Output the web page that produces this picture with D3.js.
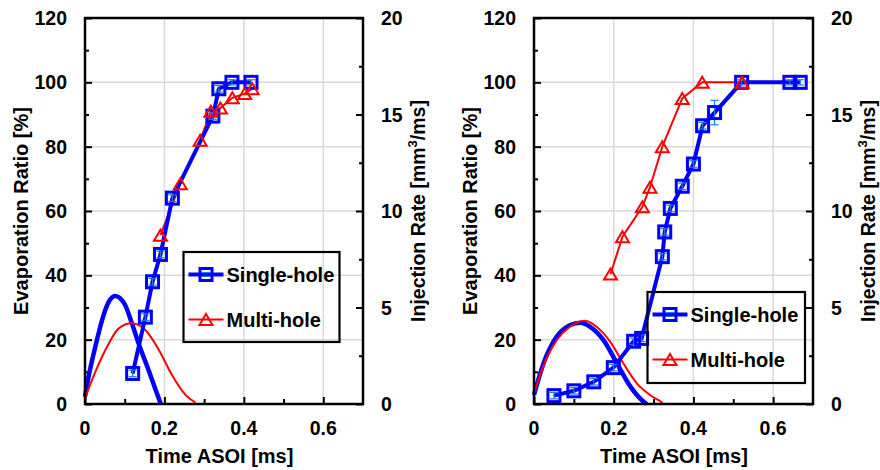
<!DOCTYPE html>
<html>
<head>
<meta charset="utf-8">
<script src="https://cdn.jsdelivr.net/npm/d3@7"></script>
<style>
  html, body { margin: 0; padding: 0; background: #fff; }
  svg text { font-family: "Liberation Sans", Arial, sans-serif; font-weight: bold; fill: #000; }
</style>
</head>
<body>
<svg id="chart" width="880" height="470"></svg>
<script>
// ---- Data -------------------------------------------------------------
const seriesNames = ["Single-hole", "Multi-hole"];

// Left panel: evaporation ratio [%] vs time ASOI [ms]
const leftSingleTime = [0.12, 0.152, 0.17, 0.19, 0.22, 0.322, 0.337, 0.37, 0.418];
const leftSingleRatio = [9.5, 27, 38, 46.5, 64, 89.5, 98, 100, 100];
const leftSingleErr = [1, 1, 1, 1, 1, 1, 1, 0.8, 0.8];
const leftMultiTime = [0.19, 0.24, 0.29, 0.317, 0.341, 0.371, 0.402, 0.421];
const leftMultiRatio = [52.5, 68.5, 82, 91, 92, 95.2, 96.5, 98];

// Left panel: injection rate [mm3/ms]
const leftSingleRateTime = [0, 0.009, 0.026, 0.043, 0.060, 0.076, 0.101, 0.118, 0.135, 0.160, 0.181, 0.191];
const leftSingleRate = [0.38, 1.41, 2.97, 4.35, 5.30, 5.60, 5.13, 4.18, 3.14, 1.76, 0.55, 0];
const leftMultiRateTime = [0, 0.026, 0.060, 0.085, 0.117, 0.152, 0.186, 0.219, 0.253, 0.278];
const leftMultiRate = [0.3, 1.67, 3.14, 3.92, 4.18, 3.83, 2.80, 1.50, 0.47, 0.07];

// Right panel: evaporation ratio [%] vs time ASOI [ms]
const rightSingleTime = [0.05, 0.10, 0.15, 0.199, 0.25, 0.27, 0.322, 0.328, 0.342, 0.372, 0.40, 0.423, 0.453, 0.521, 0.642, 0.668];
const rightSingleRatio = [2.6, 4.1, 6.9, 11.3, 19.5, 20.4, 45.8, 53.5, 60.8, 67.7, 74.6, 86.5, 90.6, 100, 100, 100];
const rightSingleErr = [1, 1, 1, 1, 1, 1, 1, 1, 1, 1, 1, 1, 3.8, 0.8, 0.8, 0.8];
const rightMultiTime = [0.192, 0.222, 0.272, 0.291, 0.322, 0.372, 0.422, 0.522];
const rightMultiRatio = [40.4, 52, 61.3, 67.4, 80, 95, 100, 100];

// Right panel: injection rate [mm3/ms]
const rightSingleRateTime = [0, 0.024, 0.057, 0.091, 0.116, 0.141, 0.174, 0.208, 0.242, 0.275, 0.283];
const rightSingleRate = [0.47, 2.11, 3.49, 4.09, 4.21, 4.0, 3.32, 2.11, 0.9, 0.12, 0];
const rightMultiRateTime = [0, 0.024, 0.057, 0.09, 0.128, 0.157, 0.191, 0.224, 0.258, 0.291, 0.318, 0.323];
const rightMultiRate = [0.55, 2.0, 3.3, 4.0, 4.31, 4.0, 3.23, 2.11, 1.07, 0.47, 0.12, 0.05];

// Axis ticks
const xMajorTicks = [0, 0.2, 0.4, 0.6];
const xMinorTicks = [0.1, 0.3, 0.5];
const yMajorTicks = [0, 20, 40, 60, 80, 100, 120];
const yMinorTicks = [10, 30, 50, 70, 90, 110];
const y2MajorTicks = [0, 5, 10, 15, 20];
const y2MinorTicks = [2.5, 7.5, 12.5, 17.5];

// ---- Drawing ----------------------------------------------------------
const BLUE = "#0000ff", RED = "#ff0000", ERR = "#1c7ed6", GRID = "#d9d9d9";
const svg = d3.select("#chart");

const zip = (a, b, c) => a.map((v, i) => ({ x: v, y: b[i], e: c ? c[i] : 0 }));

// triangle whose bounding box is centred on the point
function triPath(w, h) {
  return `M0,${-h / 2}L${w / 2},${h / 2}L${-w / 2},${h / 2}Z`;
}

function drawPanel(p) {
  const x = d3.scaleLinear().domain([0, 0.7]).range([p.left, p.right]);
  const y = d3.scaleLinear().domain([0, 120]).range([p.bottom, p.top]);
  const y2 = d3.scaleLinear().domain([0, 20]).range([p.bottom, p.top]);
  const g = svg.append("g");

  // grid
  g.selectAll(".gx").data(xMajorTicks.filter(t => t > 0)).join("line")
    .attr("x1", d => x(d)).attr("x2", d => x(d)).attr("y1", p.top).attr("y2", p.bottom)
    .attr("stroke", GRID).attr("stroke-width", 1.5);
  g.selectAll(".gy").data(yMajorTicks.filter(t => t > 0 && t < 120)).join("line")
    .attr("x1", p.left).attr("x2", p.right).attr("y1", d => y(d)).attr("y2", d => y(d))
    .attr("stroke", GRID).attr("stroke-width", 1.5);

  // axes (inward ticks)
  g.append("g").attr("transform", `translate(0,${p.bottom})`)
    .call(d3.axisTop(x).tickValues(xMajorTicks).tickSize(7).tickFormat(""));
  g.append("g").attr("transform", `translate(0,${p.bottom})`)
    .call(d3.axisTop(x).tickValues(xMinorTicks).tickSize(5).tickFormat(""));
  g.append("g").attr("transform", `translate(${p.left},0)`)
    .call(d3.axisRight(y).tickValues(yMajorTicks).tickSize(7).tickFormat(""));
  g.append("g").attr("transform", `translate(${p.left},0)`)
    .call(d3.axisRight(y).tickValues(yMinorTicks).tickSize(4).tickFormat(""));
  g.append("g").attr("transform", `translate(${p.right},0)`)
    .call(d3.axisLeft(y2).tickValues(y2MajorTicks).tickSize(7).tickFormat(""));
  g.append("g").attr("transform", `translate(${p.right},0)`)
    .call(d3.axisLeft(y2).tickValues(y2MinorTicks).tickSize(4).tickFormat(""));
  g.selectAll(".domain").remove();
  g.selectAll(".tick line").attr("stroke", "#000").attr("stroke-width", 2);

  // tick labels
  g.selectAll(".xl").data(xMajorTicks).join("text")
    .attr("x", d => x(d)).attr("y", p.bottom + 31).attr("text-anchor", "middle")
    .attr("font-size", 19.5).text(d => d === 0 ? "0" : d3.format(".1f")(d));
  g.selectAll(".yl").data(yMajorTicks).join("text")
    .attr("x", p.left - 18).attr("y", d => y(d) + 7).attr("text-anchor", "end")
    .attr("font-size", 19.5).text(d => d);
  g.selectAll(".y2l").data(y2MajorTicks).join("text")
    .attr("x", p.right + 18).attr("y", d => y2(d) + 7).attr("text-anchor", "start")
    .attr("font-size", 19.5).text(d => d);

  // axis titles
  const midY = (p.top + p.bottom) / 2;
  g.append("text").attr("x", (p.left + p.right) / 2 + p.titleDx).attr("y", p.bottom + 59)
    .attr("text-anchor", "middle").attr("font-size", 20).text("Time ASOI [ms]");
  g.append("text").attr("transform", `translate(${p.left - 57},${midY}) rotate(-90)`)
    .attr("text-anchor", "middle").attr("font-size", 20).text("Evaporation Ratio [%]");
  const t2 = g.append("text").attr("transform", `translate(${p.right + 62},${midY}) rotate(-90)`)
    .attr("text-anchor", "middle").attr("font-size", 19.5);
  t2.append("tspan").text("Injection Rate [mm");
  t2.append("tspan").attr("font-size", 13).attr("dy", -8).text("3");
  t2.append("tspan").attr("dy", 8).text("/ms]");

  // injection-rate curves
  const rateLine = d3.line().x(d => x(d.x)).y(d => y2(d.y)).curve(d3.curveMonotoneX);
  g.append("path").datum(zip(p.singleRateT, p.singleRate)).attr("d", rateLine)
    .attr("fill", "none").attr("stroke", BLUE).attr("stroke-width", 4.5);
  g.append("path").datum(zip(p.multiRateT, p.multiRate)).attr("d", rateLine)
    .attr("fill", "none").attr("stroke", RED).attr("stroke-width", 2);

  // evaporation ratio series
  const ratioLine = d3.line().x(d => x(d.x)).y(d => y(d.y));
  const single = zip(p.singleT, p.singleE, p.singleErr);
  const multi = zip(p.multiT, p.multiE);

  g.append("path").datum(multi).attr("d", ratioLine)
    .attr("fill", "none").attr("stroke", RED).attr("stroke-width", 2);
  g.append("path").datum(single).attr("d", ratioLine)
    .attr("fill", "none").attr("stroke", BLUE).attr("stroke-width", 4);

  // error bars on single-hole points
  const eb = g.selectAll(".eb").data(single).join("g");
  eb.append("line").attr("x1", d => x(d.x)).attr("x2", d => x(d.x))
    .attr("y1", d => y(d.y + d.e)).attr("y2", d => y(d.y - d.e))
    .attr("stroke", ERR).attr("stroke-width", 1.2);
  eb.append("line").attr("x1", d => x(d.x) - 4).attr("x2", d => x(d.x) + 4)
    .attr("y1", d => y(d.y + d.e)).attr("y2", d => y(d.y + d.e))
    .attr("stroke", ERR).attr("stroke-width", 1.2);
  eb.append("line").attr("x1", d => x(d.x) - 4).attr("x2", d => x(d.x) + 4)
    .attr("y1", d => y(d.y - d.e)).attr("y2", d => y(d.y - d.e))
    .attr("stroke", ERR).attr("stroke-width", 1.2);

  g.selectAll(".sq").data(single).join("rect")
    .attr("x", d => x(d.x) - 6).attr("y", d => y(d.y) - 6).attr("width", 12).attr("height", 12)
    .attr("fill", "none").attr("stroke", BLUE).attr("stroke-width", 3);
  g.selectAll(".tr").data(multi).join("path")
    .attr("transform", d => `translate(${x(d.x)},${y(d.y)})`)
    .attr("d", triPath(13, 11)).attr("fill", "none").attr("stroke", RED).attr("stroke-width", 2);

  // frame
  g.append("rect").attr("x", p.left).attr("y", p.top)
    .attr("width", p.right - p.left).attr("height", p.bottom - p.top)
    .attr("fill", "none").attr("stroke", "#000").attr("stroke-width", 2.5);

  // legend
  const L = p.legend;
  const lg = g.append("g").attr("transform", `translate(${L.x},${L.y})`);
  lg.append("rect").attr("width", L.w).attr("height", L.h)
    .attr("fill", "none").attr("stroke", "#000").attr("stroke-width", 2.2);
  const rowY = [L.row1, L.row2];
  seriesNames.forEach((name, i) => {
    const ry = rowY[i];
    const col = i === 0 ? BLUE : RED;
    lg.append("line").attr("x1", 5).attr("x2", 40).attr("y1", ry).attr("y2", ry)
      .attr("stroke", col).attr("stroke-width", i === 0 ? 4 : 2);
    if (i === 0) {
      lg.append("line").attr("x1", 19).attr("x2", 26).attr("y1", ry - 2).attr("y2", ry - 2)
        .attr("stroke", ERR).attr("stroke-width", 1.2);
      lg.append("line").attr("x1", 19).attr("x2", 26).attr("y1", ry + 2).attr("y2", ry + 2)
        .attr("stroke", ERR).attr("stroke-width", 1.2);
      lg.append("rect").attr("x", 16.5).attr("y", ry - 6).attr("width", 12).attr("height", 12)
        .attr("fill", "none").attr("stroke", BLUE).attr("stroke-width", 3);
    } else {
      lg.append("path").attr("transform", `translate(22.5,${ry})`).attr("d", triPath(13, 11))
        .attr("fill", "none").attr("stroke", RED).attr("stroke-width", 2);
    }
    lg.append("text").attr("x", 43).attr("y", ry + 7).attr("font-size", 20).text(name);
  });
}

drawPanel({
  left: 85, right: 363, top: 18, bottom: 404, titleDx: -4.5,
  singleT: leftSingleTime, singleE: leftSingleRatio, singleErr: leftSingleErr,
  multiT: leftMultiTime, multiE: leftMultiRatio,
  singleRateT: leftSingleRateTime, singleRate: leftSingleRate,
  multiRateT: leftMultiRateTime, multiRate: leftMultiRate,
  legend: { x: 183.5, y: 252, w: 156, h: 90, row1: 22.5, row2: 67.5 }
});

drawPanel({
  left: 534, right: 813, top: 18, bottom: 404, titleDx: 0.5,
  singleT: rightSingleTime, singleE: rightSingleRatio, singleErr: rightSingleErr,
  multiT: rightMultiTime, multiE: rightMultiRatio,
  singleRateT: rightSingleRateTime, singleRate: rightSingleRate,
  multiRateT: rightMultiRateTime, multiRate: rightMultiRate,
  legend: { x: 647.5, y: 292, w: 157.5, h: 91, row1: 22.5, row2: 67.5 }
});
</script>
</body>
</html>
